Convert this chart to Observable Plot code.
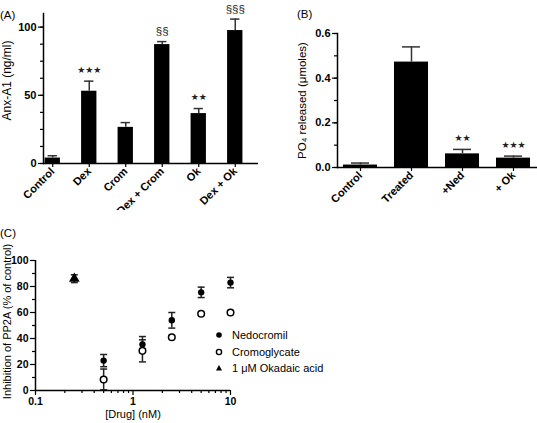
<!DOCTYPE html>
<html>
<head>
<meta charset="utf-8">
<script src="https://cdn.jsdelivr.net/npm/d3@7"></script>
<script src="https://cdn.jsdelivr.net/npm/@observablehq/plot@0.6"></script>
<style>
  body { margin: 0; background: #fff; font-family: "Liberation Sans", Arial, sans-serif; }
  #wrap { position: relative; width: 537px; height: 423px; overflow: hidden; background: #fff; }
  .panel { position: absolute; }
  .tag { position: absolute; font-size: 11.5px; color: #000; }
  .legend { position: absolute; font-size: 11px; color: #000; }
  .legend .row { display: flex; align-items: center; height: 16.5px; }
  .legend svg { margin-right: 8px; }
</style>
</head>
<body>
<div id="wrap"></div>
<script>
// ---------- Panel A data ----------
const aCategories = ["Control", "Dex", "Crom", "Dex + Crom", "Ok", "Dex + Ok"];
const aMeans = [4, 53, 26.5, 87.2, 36.6, 97.5];
const aErrors = [1.7, 7.4, 3.5, 2.2, 3.7, 8.4];
const aMarks = ["", "★★★", "", "§§", "★★", "§§§"];
const aYTicks = [0, 50, 100];
const aYMinorTicks = [0, 12.5, 25, 37.5, 50, 62.5, 75, 87.5, 100];
const aYLabel = "Anx-A1 (ng/ml)";

// ---------- Panel B data ----------
const bCategories = ["Control", "Treated", "+Ned", "+ Ok"];
const bMeans = [0.011, 0.472, 0.061, 0.042];
const bErrors = [0.009, 0.068, 0.02, 0.009];
const bMarks = ["", "", "★★", "★★★"];
const bYTicks = [0, 0.2, 0.4, 0.6];
const bYMinorTicks = [0, 0.1, 0.2, 0.3, 0.4, 0.5, 0.6];
const bYLabel = "PO₄ released (μmoles)";

// ---------- Panel C data ----------
const cDoses = [0.5, 1.25, 2.5, 5, 10];
const nedMeans = [23, 35.5, 54, 75.5, 83];
const nedErrors = [4.7, 6, 6, 4, 4];
const cromMeans = [8.5, 30.5, 41, 59, 60];
const cromErrors = [8, 8.5, 0, 0, 0];
const okaDoses = [0.25];
const okaMeans = [86];
const okaErrors = [3];
const cXTicks = [0.1, 1, 10];
const cXMinorTicks = [0.2, 0.3, 0.4, 0.5, 0.6, 0.7, 0.8, 0.9, 2, 3, 4, 5, 6, 7, 8, 9];
const cYTicks = [0, 20, 40, 60, 80, 100];
const cYMinorTicks = [10, 30, 50, 70, 90];
const cSeries = ["Nedocromil", "Cromoglycate", "1 μM Okadaic acid"];
const cXLabel = "[Drug] (nM)";
const cYLabel = "Inhibition of PP2A (% of control)";

const FONT = "'Liberation Sans', Arial, sans-serif";
const wrap = document.getElementById("wrap");

function place(el, left, top) {
  el.classList.add("panel");
  el.style.left = left + "px";
  el.style.top = top + "px";
  wrap.appendChild(el);
}
function tag(text, left, top) {
  const d = document.createElement("div");
  d.className = "tag";
  d.textContent = text;
  d.style.left = left + "px";
  d.style.top = top + "px";
  wrap.appendChild(d);
}

function barPanel(cfg) {
  const data = cfg.cats.map((c, i) => ({
    cat: c, mean: cfg.means[i], top: cfg.means[i] + cfg.errs[i], mark: cfg.marks[i]
  }));
  return Plot.plot({
    width: cfg.width, height: cfg.height,
    marginLeft: cfg.ml, marginRight: cfg.mr, marginTop: cfg.mt, marginBottom: cfg.mb,
    style: { fontFamily: FONT, background: "white", color: "black", overflow: "visible" },
    x: { type: "band", domain: cfg.cats, range: cfg.xRange, paddingInner: cfg.pad, paddingOuter: cfg.pad / 2, round: false },
    y: { domain: cfg.yDomain },
    marks: [
      Plot.barY(data, { x: "cat", y: "mean", fill: "black" }),
      Plot.ruleX(data, { x: "cat", y1: "mean", y2: "top", stroke: "#333", strokeWidth: 1.5 }),
      Plot.tickY(data, { x: "cat", y: "top", stroke: "#333", strokeWidth: 1.5, inset: cfg.capInset }),
      Plot.text(data.filter(d => d.mark && d.mark.includes("★")), { x: "cat", y: "top", text: "mark", dy: -11, fontSize: 9, fill: "#222", fontFamily: "DejaVu Sans" }),
      Plot.text(data.filter(d => d.mark && d.mark.includes("§")), { x: "cat", y: "top", text: "mark", dy: -10, fontSize: 11.5, fill: "#222" }),
      Plot.ruleY([cfg.yDomain[0]], { stroke: "black", strokeWidth: 1.5 }),
      Plot.frame({ anchor: "left", stroke: "black", strokeWidth: 1.5 }),
      Plot.axisY({ ticks: cfg.yMinor, tickSize: 3, tickFormat: () => "", label: null, strokeWidth: 1.2 }),
      Plot.axisY({ ticks: cfg.yTicks, tickSize: 5, tickPadding: 2, tickFormat: cfg.fmt, label: null, fontWeight: "bold", fontSize: 11, strokeWidth: 1.2 }),
      Plot.axisX({ tickSize: 4, tickPadding: 2, tickRotate: -45, label: null, fontWeight: "bold", fontSize: 11, strokeWidth: 1.2 }),
      Plot.text([cfg.ylabel], { frameAnchor: "left", textAnchor: "middle", rotate: -90, dx: cfg.labelDx, dy: cfg.labelDy, fontSize: cfg.labelSize, text: d => d })
    ]
  });
}

// Panel A
const plotA = barPanel({
  cats: aCategories, means: aMeans, errs: aErrors, marks: aMarks,
  width: 265, height: 210, ml: 43, mr: 7, mt: 13, mb: 47,
  xRange: [34, 253], pad: 0.58, capInset: 3,
  yDomain: [0, 110], yTicks: aYTicks, yMinor: aYMinorTicks, fmt: d => String(d),
  ylabel: aYLabel, labelDx: -36, labelDy: -8, labelSize: 12
});
place(plotA, 0, 0);

// Panel B
const plotB = barPanel({
  cats: bCategories, means: bMeans, errs: bErrors, marks: bMarks,
  width: 267, height: 210, ml: 67, mr: 0, mt: 33, mb: 43,
  xRange: [64.5, 268.5], pad: 0.333, capInset: 8,
  yDomain: [0, 0.6], yTicks: bYTicks, yMinor: bYMinorTicks, fmt: d3.format(".1f"),
  ylabel: bYLabel, labelDx: -35, labelDy: 0, labelSize: 11.5
});
place(plotB, 270, 0);

// Panel C
const ned = cDoses.map((x, i) => ({ x, m: nedMeans[i], lo: nedMeans[i] - nedErrors[i], hi: nedMeans[i] + nedErrors[i], e: nedErrors[i] }));
const crom = cDoses.map((x, i) => ({ x, m: cromMeans[i], lo: cromMeans[i] - cromErrors[i], hi: cromMeans[i] + cromErrors[i], e: cromErrors[i] }));
const oka = okaDoses.map((x, i) => ({ x, m: okaMeans[i], lo: okaMeans[i] - okaErrors[i], hi: okaMeans[i] + okaErrors[i], e: okaErrors[i] }));
const errs = [...ned, ...crom, ...oka].filter(d => d.e > 0);
const cap = { draw(ctx, size) { const r = Math.sqrt(size / Math.PI); ctx.moveTo(-r, 0); ctx.lineTo(r, 0); } };

const plotC = Plot.plot({
  width: 300, height: 213,
  marginLeft: 35, marginRight: 70, marginTop: 50, marginBottom: 33,
  style: { fontFamily: FONT, background: "white", color: "black", overflow: "visible" },
  x: { type: "log", domain: [0.1, 10] },
  y: { domain: [0, 100] },
  marks: [
    Plot.ruleX(errs, { x: "x", y1: "lo", y2: "hi", stroke: "#222", strokeWidth: 1.5 }),
    Plot.dot(errs, { x: "x", y: "hi", symbol: cap, r: 3.5, stroke: "#222", strokeWidth: 1.5 }),
    Plot.dot(errs, { x: "x", y: "lo", symbol: cap, r: 3.5, stroke: "#222", strokeWidth: 1.5 }),
    Plot.dot(ned, { x: "x", y: "m", r: 3.2, fill: "black" }),
    Plot.dot(crom, { x: "x", y: "m", r: 3.3, fill: "white", stroke: "black", strokeWidth: 1.5 }),
    Plot.dot(oka, { x: "x", y: "m", r: 4, symbol: "triangle", fill: "black" }),
    Plot.ruleY([0], { stroke: "black", strokeWidth: 1.5 }),
    Plot.ruleX([0.1], { stroke: "black", strokeWidth: 1.5 }),
    Plot.axisY({ ticks: cYMinorTicks, tickSize: 3, tickFormat: () => "", label: null, strokeWidth: 1.2 }),
    Plot.axisY({ ticks: cYTicks, tickSize: 5, tickPadding: 2, label: null, fontWeight: "bold", fontSize: 10.5, strokeWidth: 1.2 }),
    Plot.axisX({ ticks: cXMinorTicks, tickSize: 3, tickFormat: () => "", label: null, strokeWidth: 1.2 }),
    Plot.axisX({ ticks: cXTicks, tickSize: 5, tickPadding: 2, tickFormat: d => String(d), label: null, fontWeight: "bold", fontSize: 10.5, strokeWidth: 1.2 }),
    Plot.text([cYLabel], { frameAnchor: "left", textAnchor: "middle", rotate: -90, dx: -28, dy: -4, fontSize: 11, text: d => d }),
    Plot.text([cXLabel], { frameAnchor: "bottom", dy: 27, fontSize: 11, text: d => d })
  ]
});
place(plotC, 0, 210);

// Panel tags
tag("(A)", 0, 9);
tag("(B)", 297, 8);
tag("(C)", 0, 227);

// Legend for panel C
const legend = document.createElement("div");
legend.className = "legend";
legend.style.left = "214px";
legend.style.top = "327px";
const symbols = [
  '<circle cx="5" cy="5" r="2.8" fill="black"/>',
  '<circle cx="5" cy="5" r="2.6" fill="white" stroke="black" stroke-width="1.4"/>',
  '<path d="M5,2 L8,7.5 L2,7.5 Z" fill="black"/>'
];
cSeries.forEach((name, i) => {
  const row = document.createElement("div");
  row.className = "row";
  row.innerHTML = `<svg width="10" height="10">${symbols[i]}</svg><span>${name}</span>`;
  legend.appendChild(row);
});
wrap.appendChild(legend);
</script>
</body>
</html>
